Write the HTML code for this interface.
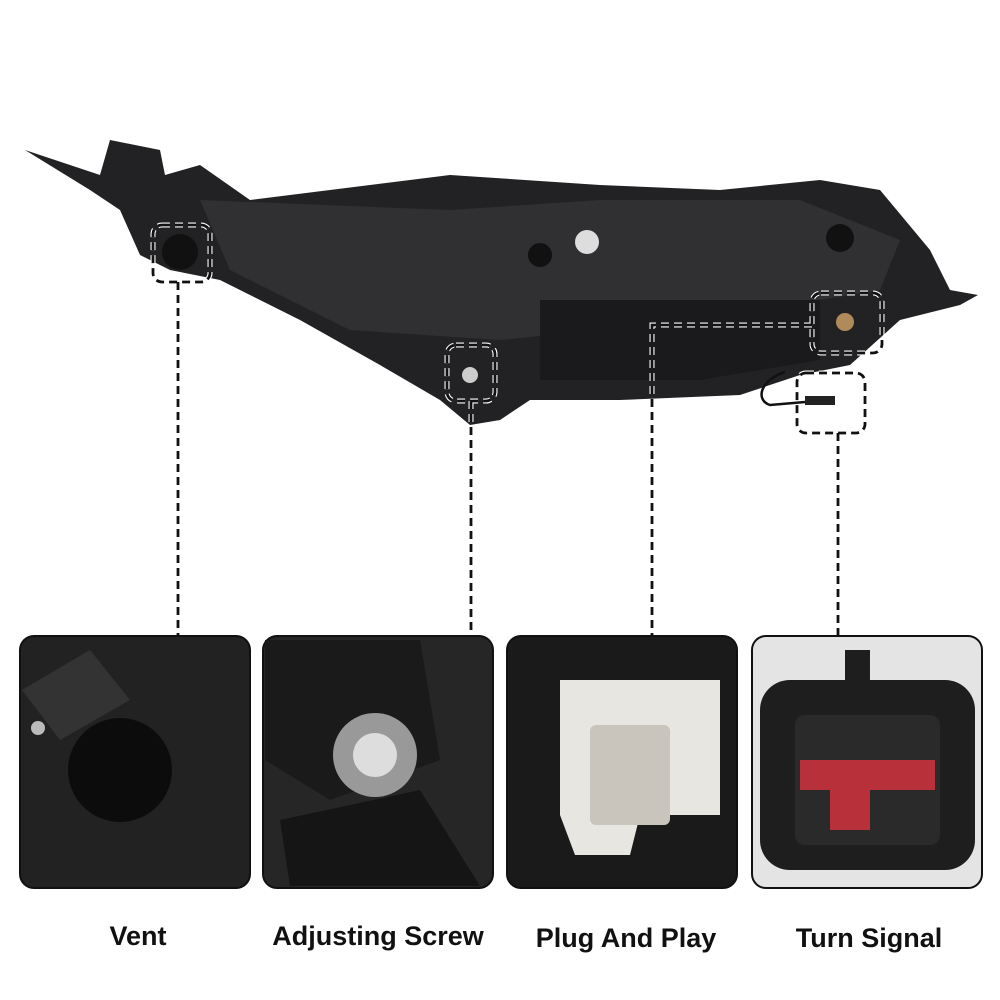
<!DOCTYPE html>
<html><head><meta charset="utf-8"><style>
html,body{margin:0;padding:0;background:#fff;}
svg{display:block;}
text{font-family:"Liberation Sans",Arial,sans-serif;font-weight:bold;font-size:27px;fill:#111;}
</style></head><body>
<svg width="1000" height="1000" viewBox="0 0 1000 1000" xmlns="http://www.w3.org/2000/svg">
<rect width="1000" height="1000" fill="#fff"/>
<!-- headlight body -->
<path d="M25,150 L100,175 L110,140 L160,150 L165,175 L200,165 L250,200 L330,190 L450,175 L600,185 L720,190 L820,180 L880,190 L930,250 L950,290 L978,295 L960,305 L900,320 L850,365 L800,375 L740,395 L620,400 L530,400 L500,420 L470,425 L440,400 L380,365 L300,320 L220,280 L170,270 L140,255 L120,210 L90,190 Z" fill="#222224"/>
<path d="M200,200 L450,210 L600,200 L800,200 L900,240 L880,290 L700,320 L500,340 L350,330 L230,270 Z" fill="#303033"/>
<path d="M540,300 L820,300 L820,360 L700,380 L540,380 Z" fill="#1a1a1c"/>
<path d="M785,372 C760,380 755,400 770,405 L805,402" fill="none" stroke="#111" stroke-width="2.5"/>
<rect x="805" y="396" width="30" height="9" fill="#222"/>
<circle cx="587" cy="242" r="12" fill="#ddd"/><circle cx="470" cy="375" r="8" fill="#ccc"/>
<circle cx="845" cy="322" r="9" fill="#b08a5a"/><circle cx="180" cy="252" r="18" fill="#111"/>
<circle cx="540" cy="255" r="12" fill="#111"/><circle cx="840" cy="238" r="14" fill="#111"/>
<!-- dashed boxes -->
<g fill="none" stroke-dasharray="8,5">
<g stroke="#fff" stroke-width="5">
<rect x="153" y="225" width="57" height="57" rx="9"/>
<rect x="447" y="345" width="48" height="56" rx="9"/>
<rect x="812" y="293" width="70" height="60" rx="9"/>
<rect x="797" y="373" width="68" height="60" rx="9"/>
<path d="M178,282 V635"/><path d="M471,401 V635"/><path d="M812,325 H652 V635"/><path d="M838,433 V635"/>
</g>
<g stroke="#111" stroke-width="2.8">
<rect x="153" y="225" width="57" height="57" rx="9"/>
<rect x="447" y="345" width="48" height="56" rx="9"/>
<rect x="812" y="293" width="70" height="60" rx="9"/>
<rect x="797" y="373" width="68" height="60" rx="9"/>
<path d="M178,282 V635"/><path d="M471,401 V635"/><path d="M812,325 H652 V635"/><path d="M838,433 V635"/>
</g>
</g>
<!-- panels -->
<g stroke="#111" stroke-width="2">
<rect x="20" y="636" width="230" height="252" rx="14" fill="#222"/>
<rect x="263" y="636" width="230" height="252" rx="14" fill="#262626"/>
<rect x="507" y="636" width="230" height="252" rx="14" fill="#1a1a1a"/>
<rect x="752" y="636" width="230" height="252" rx="14" fill="#e4e4e4"/>
</g>
<circle cx="120" cy="770" r="52" fill="#0c0c0c"/>
<path d="M22,690 L90,650 L130,700 L60,740 Z" fill="#333"/>
<circle cx="38" cy="728" r="7" fill="#bbb"/>
<path d="M265,640 L420,640 L440,760 L330,800 L265,760 Z" fill="#1a1a1a"/>
<circle cx="375" cy="755" r="42" fill="#999"/><circle cx="375" cy="755" r="22" fill="#ddd"/>
<path d="M280,820 L420,790 L480,886 L290,886 Z" fill="#151515"/>
<path d="M560,680 L720,680 L720,815 L640,815 L630,855 L575,855 L560,815 Z" fill="#e8e6e0"/>
<rect x="590" y="725" width="80" height="100" rx="6" fill="#c9c5bc"/>
<rect x="760" y="680" width="215" height="190" rx="30" fill="#1e1e1e"/>
<rect x="795" y="715" width="145" height="130" rx="10" fill="#2a2a2a"/>
<path d="M800,760 L935,760 L935,790 L870,790 L870,830 L830,830 L830,790 L800,790 Z" fill="#b8303a"/>
<rect x="845" y="650" width="25" height="35" fill="#1e1e1e"/>
<text x="138" y="945" text-anchor="middle">Vent</text>
<text x="378" y="945" text-anchor="middle">Adjusting Screw</text>
<text x="626" y="947" text-anchor="middle">Plug And Play</text>
<text x="869" y="947" text-anchor="middle">Turn Signal</text>
</svg>
</body></html>
